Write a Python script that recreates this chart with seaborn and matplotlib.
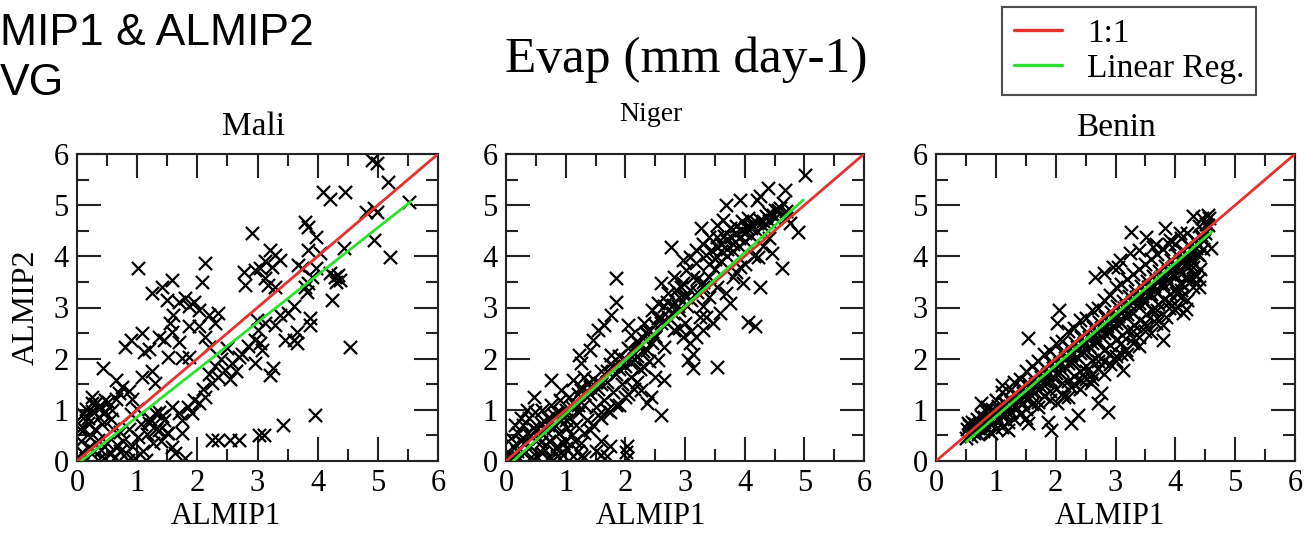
import matplotlib
matplotlib.use("Agg")
import matplotlib.pyplot as plt
import seaborn as sns
import pandas as pd
from matplotlib.ticker import MultipleLocator
from matplotlib.lines import Line2D

# ---------------- data ----------------
countries = ["Mali", "Niger", "Benin"]

mali_xy = [
    (0.03,0.05),(0.08,0.18),(0.15,0.06),(0.20,0.28),(0.07,0.40),(0.12,0.62),(0.18,0.84),(0.25,0.98),
    (0.30,1.12),(0.36,0.86),(0.42,0.72),(0.46,0.96),(0.52,1.16),(0.56,0.82),(0.30,0.62),(0.22,0.46),
    (0.35,0.42),(0.40,0.22),(0.50,0.36),(0.56,0.16),(0.62,0.05),(0.66,0.32),(0.72,0.56),(0.76,0.40),
    (0.82,0.15),(0.86,0.62),(0.92,0.30),(0.97,0.05),(1.02,0.46),(1.06,0.72),(0.60,0.62),(0.28,0.20),
    (0.45,0.05),(0.72,0.20),(1.10,0.20),(1.16,0.52),(1.22,0.82),(1.26,0.36),(1.32,0.62),(1.36,0.96),
    (0.15,1.02),(0.25,1.26),(0.40,1.06),(0.64,1.22),(0.90,0.92),(1.00,1.02),(0.05,0.62),(0.10,0.92),
    (0.85,0.02),(1.15,0.02),(0.35,0.02),(1.45,0.80),(1.50,0.55),(1.40,0.40),
    (0.44,1.81),(0.64,1.58),(1.08,1.65),(1.25,1.75),(1.30,1.52),(0.75,1.45),(0.86,1.36),(0.91,1.22),
    (0.69,1.32),(0.25,1.13),(0.36,1.06),(0.44,0.93),(0.14,0.87),(0.19,0.74),(0.47,1.19),(0.58,1.00),
    (1.02,3.77),(2.13,3.86),(2.08,3.49),(2.77,3.70),(2.96,3.73),(2.80,3.44),(2.91,4.45),
    (1.25,3.29),(1.41,3.41),(1.58,3.54),(1.50,3.15),(1.80,3.18),(1.86,3.02),(2.02,2.95),(2.19,2.85),
    (2.35,2.89),(2.30,2.69),(1.55,2.69),(1.58,2.53),(1.86,2.63),(1.08,2.51),(1.36,2.43),(1.44,2.36),
    (0.80,2.23),(0.89,2.36),(1.11,2.14),(1.19,2.18),(1.69,2.33),(1.52,2.04),(1.75,2.01),(1.86,2.04),
    (2.13,2.43),(2.19,2.23),(2.02,2.63),(1.70,3.10),(1.95,3.10),(1.60,2.85),
    (1.58,1.06),(1.69,0.93),(1.75,0.80),(1.91,0.93),(2.02,1.13),(2.13,1.26),(2.24,1.52),(2.35,1.65),
    (2.46,1.78),(2.58,1.91),(2.69,2.04),(2.85,2.24),(2.96,2.37),(1.30,0.93),(1.41,0.87),(1.19,0.74),
    (1.36,0.61),(1.52,0.54),(1.75,0.54),(1.58,0.28),(1.63,0.15),(1.80,0.05),(2.24,0.41),(2.35,0.41),
    (2.55,0.41),(2.69,0.41),(3.02,0.51),(2.20,1.70),(2.30,1.85),(2.40,2.00),(2.50,2.20),(2.55,1.60),
    (2.65,1.75),(2.75,2.10),(2.10,1.40),(1.95,1.20),(1.85,1.05),
    (4.90,5.88),(4.98,5.82),(5.17,5.46),(4.45,5.26),(4.09,5.26),(4.20,5.13),(4.93,4.94),(4.98,4.87),
    (4.81,4.87),(5.51,5.07),(3.79,4.68),(3.84,4.58),(3.98,4.38),(4.93,4.32),(5.20,3.99),(4.43,4.16),
    (3.21,4.12),(3.29,4.03),(3.12,3.90),(3.37,3.93),(3.24,3.80),(3.04,3.77),(3.68,3.83),(3.74,3.77),
    (3.84,4.12),(4.04,4.06),(3.98,3.77),(3.90,3.60),(4.20,3.67),(4.29,3.60),(4.34,3.64),(4.37,3.54),
    (4.31,3.50),(3.18,3.44),(3.29,3.41),(3.12,3.57),(3.79,3.41),(3.84,3.47),(3.82,3.31),(4.23,3.15),
    (4.54,2.23),(3.60,3.02),(3.51,2.89),(3.37,2.85),(3.29,2.66),(3.12,2.69),(3.01,2.56),(2.99,2.76),
    (3.87,2.79),(3.87,2.66),(3.65,2.53),(3.60,2.36),(3.46,2.36),(3.65,2.30),(3.04,2.30),(3.07,2.17),
    (2.96,1.91),(3.26,1.81),(3.21,1.68),(3.10,0.51),(3.43,0.70),(3.96,0.90),
]

niger_xy = [
    (0.02,0.05),(0.05,0.15),(0.10,0.05),(0.12,0.30),(0.08,0.45),(0.18,0.20),(0.20,0.55),(0.25,0.40),
    (0.28,0.70),(0.30,0.15),(0.35,0.55),(0.38,0.85),(0.40,0.30),(0.45,0.65),(0.48,0.95),(0.50,0.10),
    (0.55,0.45),(0.58,0.75),(0.60,1.00),(0.62,0.25),(0.65,0.60),(0.70,0.85),(0.72,0.40),(0.75,1.10),
    (0.78,0.65),(0.80,0.20),(0.85,0.95),(0.88,0.55),(0.90,1.20),(0.92,0.80),(0.95,0.35),(1.00,1.00),
    (1.02,0.65),(1.05,1.25),(1.08,0.85),(1.10,0.50),(1.15,1.10),(1.18,0.70),(1.20,1.30),(1.22,0.95),
    (0.15,0.70),(0.25,0.85),(0.35,1.00),(0.22,0.05),(0.42,0.08),(0.70,0.05),(0.95,0.12),(1.12,0.10),
    (1.30,0.08),(0.58,0.38),(0.82,0.70),(1.00,0.40),
    (1.25,1.45),(1.30,1.10),(1.35,0.80),(1.40,1.30),(1.45,1.60),(1.50,1.05),(1.55,1.40),(1.60,1.75),
    (1.65,1.20),(1.70,1.55),(1.75,1.90),(1.80,1.35),(1.85,1.70),(1.90,2.05),(1.95,1.50),(2.00,1.85),
    (2.05,2.20),(2.10,1.65),(2.15,2.00),(2.20,2.35),(2.25,1.80),(2.30,2.15),(2.35,2.50),(2.40,1.95),
    (2.45,2.30),(2.50,2.65),(1.40,0.60),(1.55,0.90),(1.70,1.00),(1.85,1.10),(2.00,1.25),(2.15,1.40),
    (1.60,0.40),(1.75,0.30),(1.50,0.20),(1.25,0.35),
    (2.77,4.19),(1.84,3.57),(1.84,3.11),(1.76,2.85),(1.65,2.66),(1.54,2.56),(1.45,2.36),(1.40,2.17),
    (1.23,2.07),(1.26,1.91),(1.76,2.07),(2.04,2.66),(2.09,2.46),(2.32,2.69),(2.35,2.53),(2.21,2.30),
    (2.15,2.10),(2.09,1.91),(2.60,3.47),(2.71,3.28),(2.54,3.08),(2.65,3.02),(2.82,3.60),(2.93,3.41),
    (3.02,3.21),(2.88,3.02),(3.04,3.02),(2.71,2.82),(2.60,2.69),(2.82,2.56),(2.96,2.43),(2.49,2.43),
    (2.65,2.23),(2.37,2.17),(2.54,1.97),(2.32,1.84),(2.49,1.65),(2.65,1.58),(2.26,1.39),(2.43,1.26),
    (2.37,1.13),(2.59,0.90),(0.47,1.26),(0.75,1.58),(0.92,1.39),(1.12,1.58),(1.31,1.65),(1.37,1.52),
    (1.26,1.39),(0.75,0.05),(0.85,0.10),(1.25,0.10),(1.60,0.12),(1.70,0.10),(2.01,0.18),(2.03,0.30),
    (2.03,0.05),
    (5.01,5.59),(4.39,5.33),(4.67,5.30),(4.25,5.17),(4.20,5.10),(3.92,5.10),(3.69,5.00),(3.27,4.55),
    (3.53,4.61),(3.64,4.71),(4.89,4.48),(4.64,5.04),(4.56,4.91),(4.47,4.81),(4.36,4.78),(4.25,4.71),
    (4.11,4.64),(4.03,4.58),(3.94,4.51),(3.86,4.45),(3.77,4.38),(3.69,4.32),(3.61,4.25),(3.53,4.19),
    (3.44,4.12),(3.36,4.02),(4.70,4.74),(4.76,4.65),(4.22,3.99),(4.45,4.06),(4.62,3.77),(4.25,3.41),
    (4.06,2.72),(4.17,2.63),(3.53,1.84),(3.13,1.81),(3.80,3.60),(3.92,3.80),(3.97,3.47),(3.69,3.28),
    (3.75,3.08),(3.53,3.41),(3.41,3.21),(3.30,3.02),(3.58,2.89),(3.47,2.69),(3.30,2.56),(3.19,2.43),
    (3.08,2.30),(3.13,2.10),(3.05,1.97),(3.25,2.82),(3.36,2.82),(2.97,3.93),(3.08,3.99),(3.19,3.86),
    (3.02,3.73),(3.13,3.60),(2.97,3.47),(3.08,3.34),(3.19,4.12),(3.30,4.25),(3.41,4.38),(3.53,4.38),
    (3.60,3.90),(3.70,4.00),(3.80,4.10),(3.90,4.20),(4.00,4.30),(4.10,4.40),(4.20,4.50),(4.30,4.60),
    (4.40,4.70),(4.50,4.75),(3.85,3.70),(4.00,3.85),(4.15,4.00),(4.30,4.20),(4.40,4.35),(3.40,3.60),
    (3.50,3.75),(3.30,3.50),(3.20,3.30),(2.90,3.20),(2.80,2.90),(2.70,3.10),(2.85,3.35),(3.00,2.70),
    (3.10,2.55),(2.90,2.60),(2.55,2.80),(2.45,2.95),
    (0.30,0.35),(0.40,0.50),(0.50,0.60),(0.60,0.55),(0.70,0.70),(0.80,0.90),(0.90,0.95),(1.00,0.80),
    (1.10,1.05),(1.20,1.10),(1.30,1.30),(1.40,1.45),(1.50,1.55),(1.60,1.50),(1.70,1.75),(1.80,1.85),
    (1.90,1.80),(2.00,2.00),(2.10,2.15),(2.20,2.05),(2.30,2.40),(2.40,2.55),(2.50,2.45),(2.60,2.80),
    (2.70,2.70),(2.80,3.05),(2.90,2.95),(3.00,3.25),(3.10,3.15),(3.20,3.55),(3.30,3.40),(3.40,3.85),
    (3.50,3.95),(3.60,4.10),(3.70,4.15),(3.80,4.25),(3.90,4.35),(4.00,4.45),(4.10,4.55),(4.20,4.65),
    (4.30,4.70),(4.40,4.85),(4.50,4.90),(4.60,4.95),(4.70,4.88),(3.65,4.40),(3.75,4.55),(3.85,4.60),
    (3.95,4.70),(4.05,4.75),(1.00,0.25),(1.15,0.40),(1.30,0.55),(1.45,0.70),(1.60,0.85),(1.75,0.95),
    (1.90,1.10),(2.05,1.30),(2.20,1.55),(0.60,0.15),(0.85,0.30),(1.20,0.20),
]

benin_xy = [
    (0.50,0.45),(0.52,0.62),(0.55,0.71),(0.58,0.49),(0.61,0.77),(0.63,0.55),(0.66,0.66),(0.68,0.82),
    (0.70,0.52),(0.73,0.69),(0.76,0.88),(0.78,0.58),(0.81,0.76),(0.83,0.97),(0.86,0.64),(0.88,0.86),
    (0.91,0.57),(0.93,1.02),(0.96,0.74),(0.98,0.92),(1.01,0.62),(1.03,1.07),(1.06,0.79),(1.08,0.97),
    (1.11,0.66),(1.13,1.16),(1.16,0.91),(1.18,1.06),(1.21,0.77),(1.23,1.22),(1.26,0.96),(1.28,1.12),
    (1.31,0.83),(1.33,1.31),(1.36,1.04),(1.38,1.21),(1.41,0.92),(1.43,1.42),(1.46,1.14),(1.48,1.31),
    (1.51,1.01),(1.53,1.52),(1.56,1.24),(1.58,1.41),(1.61,1.12),(1.63,1.61),(1.66,1.34),(1.68,1.52),
    (1.71,1.16),(1.73,1.72),(1.76,1.44),(1.78,1.62),(1.81,1.27),(1.83,1.81),(1.86,1.54),(1.88,1.71),
    (1.91,1.36),(1.93,1.92),(1.96,1.64),(1.98,1.82),(2.01,1.41),(2.03,2.02),(2.06,1.74),(2.08,1.91),
    (2.11,1.52),(2.13,2.12),(2.16,1.84),(2.18,2.02),(2.21,1.56),(2.23,2.22),(2.26,1.94),(2.28,2.11),
    (2.31,1.67),(2.33,2.31),(2.36,2.04),(2.38,2.22),(2.41,1.76),(2.43,2.42),(2.46,2.14),(2.48,2.31),
    (2.51,1.86),(2.53,2.52),(2.56,2.24),(2.58,2.41),(2.61,1.97),(2.63,2.62),(2.66,2.34),(2.68,2.52),
    (2.71,2.06),(2.73,2.72),(2.76,2.44),(2.78,2.62),(2.81,2.16),(2.83,2.82),(2.86,2.54),(2.88,2.71),
    (2.91,2.27),(2.93,2.92),(2.96,2.64),(2.98,2.82),(3.01,2.36),(3.03,3.02),(3.06,2.74),(3.08,2.91),
    (3.11,2.46),(3.13,3.12),(3.16,2.84),(3.18,3.02),(3.21,2.57),(3.23,3.22),(3.26,2.94),(3.28,3.11),
    (3.31,2.66),(3.33,3.32),(3.36,3.04),(3.38,3.22),(3.41,2.76),(3.43,3.42),(3.46,3.14),(3.48,3.31),
    (3.51,2.87),(3.53,3.52),(3.56,3.24),(3.58,3.42),(3.61,2.96),(3.63,3.62),(3.66,3.34),(3.68,3.51),
    (3.71,3.06),(3.73,3.72),(3.76,3.44),(3.78,3.62),(3.81,3.17),(3.83,3.82),(3.86,3.54),(3.88,3.71),
    (3.91,3.26),(3.93,3.92),(3.96,3.64),(3.98,3.82),(4.01,3.36),(4.03,4.02),(4.06,3.74),(4.08,3.91),
    (4.11,3.46),(4.13,4.12),(4.16,3.84),(4.18,4.02),(4.21,3.57),(4.23,4.22),(4.26,3.94),(4.28,4.11),
    (4.31,3.66),(4.33,4.32),(4.36,4.04),(4.38,4.22),(4.41,3.76),(4.43,4.42),(4.46,4.14),(4.48,4.31),
    (4.50,4.46),(4.55,4.61),
    (1.53,2.40),(2.06,2.95),(2.03,2.69),(2.65,3.60),(2.81,3.67),(3.04,3.80),(1.11,1.49),(0.75,1.13),
    (0.53,0.74),(0.64,0.61),(0.92,0.54),(1.20,0.61),(1.53,0.74),(1.87,0.77),(1.92,0.61),(2.26,0.74),
    (2.37,0.90),(2.87,0.96),(2.76,1.32),(2.70,1.13),(2.59,1.52),(2.42,1.58),(2.26,1.45),(2.14,1.26),
    (2.03,1.13),(4.30,4.78),(4.57,4.74),(4.52,4.64),(4.60,4.16),(3.82,4.55),(3.26,4.48),(4.35,3.64),
    (4.02,3.02),(4.18,2.98),(4.13,2.89),(3.80,2.36),(3.13,1.78),(3.18,2.17),(3.29,2.30),(3.40,2.43),
    (3.51,2.63),(3.68,2.69),(3.84,2.82),(3.63,2.95),(4.07,3.47),(4.18,3.60),(4.01,3.28),(4.29,3.80),
    (4.13,3.93),(3.51,4.38),(3.68,4.25),(3.91,4.32),(4.07,4.45),(3.62,4.19),(3.40,4.12),(3.24,4.06),
    (3.07,3.93),(2.96,3.80),
    (1.40,1.60),(1.60,1.85),(1.80,2.10),(2.00,2.30),(2.20,2.55),(2.40,2.75),(2.60,2.95),(2.80,3.15),
    (3.00,3.40),(3.20,3.55),(3.40,3.75),(3.60,3.95),(3.80,4.15),(4.00,4.25),(4.20,4.45),(1.25,1.40),
    (1.00,1.20),(0.85,1.05),(2.90,1.90),(3.00,2.05),(3.10,2.10),(3.30,2.40),(3.50,2.55),(3.70,2.80),
    (3.90,3.00),(4.10,3.20),(4.30,3.40),(4.40,3.55),(2.50,1.60),(2.60,1.70),(2.70,1.80),(2.80,1.95),
    (0.60,0.60),(0.65,0.72),(0.70,0.64),(0.75,0.70),(0.80,0.86),(0.85,0.80),(0.90,0.78),(0.95,0.96),
    (1.00,0.88),(1.05,1.00),(1.10,0.92),(1.15,1.12),(1.20,1.02),(1.25,1.16),(1.30,1.06),(1.35,1.26),
    (1.40,1.18),(1.45,1.32),(1.50,1.22),(1.55,1.46),(1.60,1.36),(1.65,1.50),(1.70,1.40),(1.75,1.64),
    (1.80,1.56),(1.85,1.68),(1.90,1.58),(1.95,1.82),(2.00,1.72),(2.05,1.88),(2.10,1.78),(2.15,2.02),
    (2.20,1.92),(2.25,2.08),(2.30,1.96),(2.35,2.22),(2.40,2.12),(2.45,2.26),(2.50,2.16),(2.55,2.42),
    (2.60,2.30),(2.65,2.46),(2.70,2.34),(2.75,2.60),(2.80,2.50),(2.85,2.64),(2.90,2.52),(2.95,2.80),
    (3.00,2.70),(3.05,2.84),(3.10,2.70),(3.15,3.00),(3.20,2.88),(3.25,3.04),(3.30,2.90),(3.35,3.20),
    (3.40,3.08),(3.45,3.22),(3.50,3.10),(3.55,3.40),(3.60,3.26),(3.65,3.42),(3.70,3.28),(3.75,3.58),
    (3.80,3.46),(3.85,3.60),(3.90,3.48),(3.95,3.78),(4.00,3.64),(4.05,3.80),(4.10,3.66),(4.15,3.96),
    (4.20,3.84),(4.25,3.98),(4.30,3.86),(4.35,4.16),(4.40,4.02),(4.45,4.36),
    (1.50,0.85),(1.70,1.05),(1.90,1.20),(2.10,1.30),(2.30,1.50),(2.50,1.75),(2.70,1.95),(2.90,2.10),
    (3.10,2.30),(3.30,2.55),(3.50,2.70),(3.70,2.95),(3.90,3.10),(4.10,3.35),(4.30,3.55),(2.20,1.25),
    (2.40,1.40),(2.60,1.60),(2.80,1.70),(3.00,1.95),(3.20,2.10),(3.40,2.25),(3.60,2.50),(3.80,2.65),
    (4.00,2.95),(4.20,3.15),(4.40,3.40),
    (1.10,1.35),(1.30,1.55),(1.50,1.75),(1.70,1.95),(1.90,2.15),(2.10,2.35),(2.30,2.60),(2.50,2.80),
    (2.70,3.00),(2.90,3.25),(3.10,3.45),(3.30,3.65),(3.50,3.85),(3.70,4.05),(3.90,4.25),(4.10,4.35),
    (4.40,4.60),(4.55,4.80),(4.45,4.75),
]

one_to_one = [0, 6]
# linear-regression line end points (x, y)
mali_reg_x, mali_reg_y = [0.07, 5.55], [0.0, 5.07]
niger_reg_x, niger_reg_y = [0.12, 4.98], [0.0, 5.10]
benin_reg_x, benin_reg_y = [0.51, 4.61], [0.38, 4.48]

axis_ticks = [0, 1, 2, 3, 4, 5, 6]
suptitle = "Evap (mm day-1)"
corner_lines = ["MIP1 & ALMIP2", "VG"]

# ---------------- style ----------------
sns.set_theme(style="white")
plt.rcParams["font.family"] = ["Liberation Serif", "DejaVu Serif"]
for k in ["text.color", "axes.labelcolor", "xtick.color", "ytick.color"]:
    plt.rcParams[k] = "black"

RED = "#e3322f"
GREEN = "#2ee02e"

fig = plt.figure(figsize=(13.06, 5.37), dpi=100)
W, H = 1306, 537
ax_px = [(77, 438), (506, 864), (936, 1295)]
top_px, bot_px = 154, 461
title_sizes = [24, 20, 24]
title_pads = [14, 24, 13]
title_xfrac = [0.49, 0.405, 0.50]
xlabel_xfrac = [0.413, 0.405, 0.485]

data = [mali_xy, niger_xy, benin_xy]
regs = [(mali_reg_x, mali_reg_y), (niger_reg_x, niger_reg_y), (benin_reg_x, benin_reg_y)]

for i, (l, r) in enumerate(ax_px):
    ax = fig.add_axes([l / W, 1 - bot_px / H, (r - l) / W, (bot_px - top_px) / H])
    df = pd.DataFrame(data[i], columns=["ALMIP1", "ALMIP2"])
    sns.scatterplot(data=df, x="ALMIP1", y="ALMIP2", ax=ax, marker="x", color="black",
                    s=90, linewidth=1.6, legend=False, zorder=2)
    sns.lineplot(x=one_to_one, y=one_to_one, ax=ax, color=RED, linewidth=2.0,
                 estimator=None, sort=False, legend=False, zorder=3)
    rx, ry = regs[i]
    sns.lineplot(x=rx, y=ry, ax=ax, color=GREEN, linewidth=2.0,
                 estimator=None, sort=False, legend=False, zorder=4)
    ax.set_xlim(0, 6)
    ax.set_ylim(0, 6)
    ax.set_xticks(axis_ticks)
    ax.set_yticks(axis_ticks)
    ax.xaxis.set_minor_locator(MultipleLocator(0.5))
    ax.yaxis.set_minor_locator(MultipleLocator(0.5))
    ax.tick_params(which="both", direction="in", top=True, right=True, bottom=True, left=True,
                   color="#222222")
    ax.tick_params(which="major", length=17, width=1.5, labelsize=22, pad=6)
    ax.tick_params(which="minor", length=8.5, width=1.5)
    for sp in ax.spines.values():
        sp.set_linewidth(1.5)
        sp.set_color("#222222")
    ax.set_title(countries[i], fontsize=title_sizes[i], pad=title_pads[i], x=title_xfrac[i])
    ax.set_xlabel("ALMIP1", fontsize=22)
    ax.xaxis.set_label_coords(xlabel_xfrac[i], -0.135)
    if i == 0:
        ax.set_ylabel("ALMIP2", fontsize=23)
        ax.yaxis.set_label_coords(-0.10, 0.5)
    else:
        ax.set_ylabel("")
    ax.grid(False)

fig.text(686 / W, 1 - 60 / H, suptitle, fontsize=37, ha="center", va="center")

fig.text(0.0, 1 - 45 / H, corner_lines[0], fontsize=32, ha="left", va="baseline",
         family=["Liberation Sans", "DejaVu Sans"])
fig.text(0.0, 1 - 95 / H, corner_lines[1], fontsize=32, ha="left", va="baseline",
         family=["Liberation Sans", "DejaVu Sans"])

handles = [Line2D([], [], color=RED, linewidth=2.4), Line2D([], [], color=GREEN, linewidth=2.4)]
leg = fig.legend(handles, ["1:1", "Linear Reg."], loc="upper right",
                 bbox_to_anchor=(1256 / W, 1 - 7 / H), fontsize=24, frameon=True,
                 fancybox=False, edgecolor="#222222", handlelength=1.45, handletextpad=0.75,
                 borderpad=0.35, labelspacing=0.12, borderaxespad=0)
leg.get_frame().set_linewidth(1.5)

fig.savefig("out.png", dpi=100)
